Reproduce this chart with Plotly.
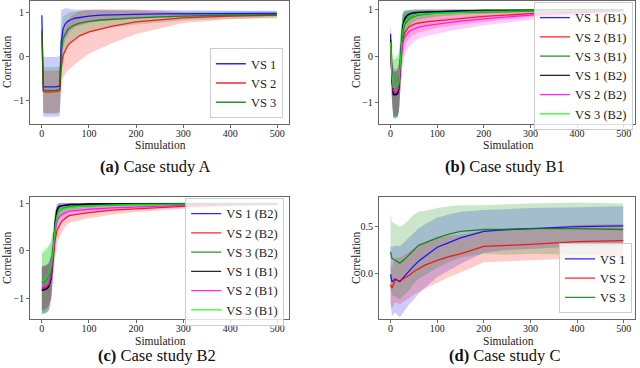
import plotly.graph_objects as go

# ---------------- (a) Case study A ----------------
a_x = [0, 3, 10, 20, 30, 38, 41, 45, 50, 55, 60, 70, 80, 100, 125, 150, 200, 250, 300, 400, 499]
a_vs1 = [0.93, -0.70, -0.70, -0.70, -0.70, -0.68, 0.30, 0.62, 0.74, 0.79, 0.82, 0.86, 0.88, 0.91, 0.93, 0.94, 0.95, 0.96, 0.96, 0.97, 0.97]
a_vs1_sd = [0.15, 0.68, 0.68, 0.68, 0.68, 0.68, 0.75, 0.45, 0.35, 0.30, 0.25, 0.20, 0.18, 0.15, 0.13, 0.12, 0.10, 0.09, 0.08, 0.07, 0.06]
a_vs2 = [0.55, -0.80, -0.82, -0.82, -0.81, -0.79, -0.30, 0.02, 0.15, 0.24, 0.30, 0.39, 0.46, 0.55, 0.62, 0.68, 0.78, 0.83, 0.87, 0.91, 0.93]
a_vs2_sd = [0.20, 0.48, 0.48, 0.48, 0.48, 0.48, 0.50, 0.52, 0.55, 0.57, 0.58, 0.58, 0.56, 0.50, 0.44, 0.38, 0.28, 0.20, 0.12, 0.07, 0.05]
a_vs3 = [0.60, -0.77, -0.78, -0.78, -0.78, -0.76, 0.05, 0.40, 0.52, 0.60, 0.65, 0.71, 0.75, 0.79, 0.82, 0.84, 0.87, 0.89, 0.91, 0.93, 0.94]
a_vs3_sd = [0.20, 0.53, 0.53, 0.53, 0.53, 0.53, 0.55, 0.50, 0.42, 0.38, 0.35, 0.30, 0.28, 0.26, 0.22, 0.19, 0.15, 0.12, 0.10, 0.08, 0.08]

# ---------------- (b) Case study B1 ----------------
b_x = [0, 3, 6, 10, 15, 18, 22, 26, 30, 35, 40, 50, 60, 80, 100, 150, 200, 300, 400, 499]
b_vs1_b1 = [0.48, -0.50, -0.83, -0.84, -0.82, -0.70, 0.00, 0.60, 0.78, 0.86, 0.90, 0.93, 0.94, 0.95, 0.96, 0.97, 0.98, 0.98, 0.99, 0.99]
b_vs1_b1_sd = [0.20, 0.45, 0.50, 0.50, 0.50, 0.50, 0.45, 0.30, 0.18, 0.12, 0.09, 0.07, 0.06, 0.05, 0.04, 0.03, 0.03, 0.02, 0.02, 0.02]
b_vs2_b1 = [0.30, -0.45, -0.78, -0.80, -0.78, -0.68, -0.10, 0.35, 0.50, 0.58, 0.63, 0.68, 0.71, 0.74, 0.76, 0.81, 0.85, 0.91, 0.95, 0.98]
b_vs2_b1_sd = [0.25, 0.45, 0.50, 0.50, 0.50, 0.50, 0.50, 0.40, 0.33, 0.28, 0.25, 0.22, 0.20, 0.18, 0.16, 0.13, 0.11, 0.07, 0.04, 0.02]
b_vs3_b1 = [0.28, -0.40, -0.68, -0.68, -0.66, -0.55, 0.00, 0.50, 0.68, 0.75, 0.80, 0.85, 0.88, 0.90, 0.92, 0.94, 0.95, 0.97, 0.98, 0.99]
b_vs3_b1_sd = [0.35, 0.50, 0.60, 0.62, 0.62, 0.60, 0.50, 0.38, 0.26, 0.20, 0.16, 0.12, 0.10, 0.08, 0.07, 0.05, 0.04, 0.03, 0.02, 0.02]
b_vs1_b2 = [0.35, -0.50, -0.82, -0.83, -0.81, -0.70, 0.00, 0.62, 0.80, 0.87, 0.90, 0.93, 0.94, 0.95, 0.96, 0.97, 0.98, 0.98, 0.99, 0.99]
b_vs1_b2_sd = [0.20, 0.45, 0.50, 0.50, 0.50, 0.50, 0.45, 0.30, 0.18, 0.12, 0.09, 0.07, 0.06, 0.05, 0.04, 0.03, 0.03, 0.02, 0.02, 0.02]
b_vs2_b2 = [0.30, -0.45, -0.75, -0.77, -0.75, -0.65, -0.15, 0.25, 0.40, 0.48, 0.53, 0.58, 0.62, 0.66, 0.69, 0.75, 0.80, 0.88, 0.93, 0.97]
b_vs2_b2_sd = [0.25, 0.45, 0.50, 0.50, 0.50, 0.50, 0.50, 0.45, 0.40, 0.35, 0.32, 0.28, 0.25, 0.22, 0.20, 0.17, 0.14, 0.10, 0.06, 0.03]
b_vs3_b2 = [0.30, -0.40, -0.67, -0.67, -0.65, -0.55, 0.02, 0.55, 0.72, 0.78, 0.82, 0.87, 0.89, 0.91, 0.92, 0.94, 0.96, 0.97, 0.98, 0.99]
b_vs3_b2_sd = [0.40, 0.55, 0.65, 0.67, 0.67, 0.65, 0.55, 0.40, 0.28, 0.20, 0.15, 0.11, 0.09, 0.08, 0.07, 0.05, 0.04, 0.03, 0.02, 0.02]

# ---------------- (c) Case study B2 ----------------
c_x = [0, 5, 10, 15, 20, 24, 28, 32, 36, 40, 45, 50, 55, 60, 80, 100, 150, 200, 300, 400, 499]
c_vs1_b2 = [-0.83, -0.82, -0.80, -0.75, -0.55, -0.05, 0.55, 0.85, 0.92, 0.94, 0.95, 0.96, 0.96, 0.97, 0.97, 0.98, 0.98, 0.98, 0.99, 0.99, 0.99]
c_vs1_b2_sd = [0.50, 0.50, 0.50, 0.50, 0.45, 0.35, 0.25, 0.12, 0.08, 0.06, 0.05, 0.05, 0.04, 0.04, 0.03, 0.03, 0.03, 0.02, 0.02, 0.02, 0.02]
c_vs2_b2 = [-0.80, -0.79, -0.77, -0.72, -0.55, -0.20, 0.20, 0.42, 0.52, 0.58, 0.64, 0.69, 0.72, 0.74, 0.77, 0.80, 0.85, 0.88, 0.93, 0.96, 0.98]
c_vs2_b2_sd = [0.45, 0.45, 0.45, 0.45, 0.45, 0.40, 0.35, 0.30, 0.27, 0.24, 0.21, 0.18, 0.16, 0.15, 0.13, 0.12, 0.09, 0.07, 0.05, 0.03, 0.02]
c_vs3_b2 = [-0.67, -0.65, -0.60, -0.50, -0.35, 0.00, 0.50, 0.75, 0.83, 0.86, 0.88, 0.90, 0.91, 0.92, 0.93, 0.94, 0.96, 0.97, 0.98, 0.99, 0.99]
c_vs3_b2_sd = [0.60, 0.62, 0.62, 0.60, 0.55, 0.45, 0.30, 0.18, 0.12, 0.10, 0.08, 0.07, 0.06, 0.06, 0.05, 0.04, 0.03, 0.03, 0.02, 0.02, 0.02]
c_vs1_b1 = [-0.84, -0.83, -0.81, -0.76, -0.56, -0.05, 0.55, 0.85, 0.92, 0.94, 0.95, 0.96, 0.96, 0.97, 0.97, 0.98, 0.98, 0.98, 0.99, 0.99, 0.99]
c_vs1_b1_sd = [0.50, 0.50, 0.50, 0.50, 0.45, 0.35, 0.25, 0.12, 0.08, 0.06, 0.05, 0.05, 0.04, 0.04, 0.03, 0.03, 0.03, 0.02, 0.02, 0.02, 0.02]
c_vs2_b1 = [-0.78, -0.77, -0.75, -0.70, -0.50, -0.10, 0.40, 0.62, 0.70, 0.74, 0.78, 0.80, 0.82, 0.83, 0.85, 0.87, 0.90, 0.92, 0.95, 0.97, 0.98]
c_vs2_b1_sd = [0.45, 0.45, 0.45, 0.45, 0.45, 0.40, 0.30, 0.22, 0.18, 0.16, 0.14, 0.12, 0.11, 0.10, 0.08, 0.07, 0.05, 0.04, 0.03, 0.02, 0.02]
c_vs3_b1 = [-0.66, -0.63, -0.58, -0.48, -0.33, 0.00, 0.48, 0.73, 0.82, 0.86, 0.88, 0.89, 0.90, 0.91, 0.93, 0.94, 0.96, 0.97, 0.98, 0.99, 0.99]
c_vs3_b1_sd = [0.65, 0.66, 0.65, 0.60, 0.55, 0.45, 0.30, 0.18, 0.12, 0.10, 0.08, 0.07, 0.06, 0.06, 0.05, 0.04, 0.03, 0.03, 0.02, 0.02, 0.02]

# ---------------- (d) Case study C ----------------
d_x = [0, 3, 10, 20, 30, 40, 50, 60, 75, 100, 125, 150, 200, 250, 300, 400, 499]
d_vs1 = [-0.01, -0.09, -0.06, -0.09, -0.03, 0.03, 0.08, 0.13, 0.19, 0.28, 0.33, 0.38, 0.45, 0.47, 0.48, 0.50, 0.51]
d_vs1_sd = [0.30, 0.37, 0.36, 0.38, 0.37, 0.36, 0.36, 0.35, 0.34, 0.32, 0.30, 0.28, 0.23, 0.22, 0.22, 0.21, 0.21]
d_vs2 = [-0.12, -0.16, -0.07, -0.08, -0.05, -0.02, 0.02, 0.05, 0.09, 0.14, 0.18, 0.21, 0.29, 0.30, 0.31, 0.34, 0.35]
d_vs2_sd = [0.22, 0.22, 0.24, 0.25, 0.25, 0.25, 0.25, 0.25, 0.25, 0.24, 0.22, 0.20, 0.17, 0.17, 0.17, 0.18, 0.18]
d_vs3 = [0.23, 0.16, 0.14, 0.11, 0.15, 0.20, 0.26, 0.30, 0.33, 0.38, 0.42, 0.45, 0.47, 0.47, 0.48, 0.48, 0.47]
d_vs3_sd = [0.40, 0.40, 0.39, 0.39, 0.38, 0.38, 0.37, 0.36, 0.34, 0.32, 0.30, 0.28, 0.26, 0.27, 0.27, 0.28, 0.28]

BLUE, RED, GREEN = (0, 0, 255), (255, 0, 0), (0, 128, 0)
BLACK, MAGENTA, LIME = (0, 0, 0), (255, 0, 255), (0, 255, 0)
FONT = "Liberation Serif"

fig = go.Figure()


def add_series(x, mean, sd, rgb, name, ax, legend):
    xr = "x" if ax == 1 else f"x{ax}"
    yr = "y" if ax == 1 else f"y{ax}"
    upper = [m + s for m, s in zip(mean, sd)]
    lower = [m - s for m, s in zip(mean, sd)]
    fig.add_trace(go.Scatter(
        x=x + x[::-1], y=upper + lower[::-1], fill="toself",
        fillcolor="rgba(%d,%d,%d,0.2)" % rgb, line=dict(width=0),
        mode="lines", hoverinfo="skip", showlegend=False, xaxis=xr, yaxis=yr))
    return dict(x=x, y=mean, mode="lines", name=name, xaxis=xr, yaxis=yr,
                legend=legend, opacity=0.85,
                line=dict(color="rgb(%d,%d,%d)" % rgb, width=1.3))


panels = [
    (1, "legend", [(a_x, a_vs1, a_vs1_sd, BLUE, "VS 1"),
                   (a_x, a_vs2, a_vs2_sd, RED, "VS 2"),
                   (a_x, a_vs3, a_vs3_sd, GREEN, "VS 3")]),
    (2, "legend2", [(b_x, b_vs1_b1, b_vs1_b1_sd, BLUE, "VS 1 (B1)"),
                    (b_x, b_vs2_b1, b_vs2_b1_sd, RED, "VS 2 (B1)"),
                    (b_x, b_vs3_b1, b_vs3_b1_sd, GREEN, "VS 3 (B1)"),
                    (b_x, b_vs1_b2, b_vs1_b2_sd, BLACK, "VS 1 (B2)"),
                    (b_x, b_vs2_b2, b_vs2_b2_sd, MAGENTA, "VS 2 (B2)"),
                    (b_x, b_vs3_b2, b_vs3_b2_sd, LIME, "VS 3 (B2)")]),
    (3, "legend3", [(c_x, c_vs1_b2, c_vs1_b2_sd, BLUE, "VS 1 (B2)"),
                    (c_x, c_vs2_b2, c_vs2_b2_sd, RED, "VS 2 (B2)"),
                    (c_x, c_vs3_b2, c_vs3_b2_sd, GREEN, "VS 3 (B2)"),
                    (c_x, c_vs1_b1, c_vs1_b1_sd, BLACK, "VS 1 (B1)"),
                    (c_x, c_vs2_b1, c_vs2_b1_sd, MAGENTA, "VS 2 (B1)"),
                    (c_x, c_vs3_b1, c_vs3_b1_sd, LIME, "VS 3 (B1)")]),
    (4, "legend4", [(d_x, d_vs1, d_vs1_sd, BLUE, "VS 1"),
                    (d_x, d_vs2, d_vs2_sd, RED, "VS 2"),
                    (d_x, d_vs3, d_vs3_sd, GREEN, "VS 3")]),
]

lines = []
for ax, leg, series in panels:
    for x, m, s, rgb, name in series:
        lines.append(add_series(x, m, s, rgb, name, ax, leg))
for ln in lines:
    fig.add_trace(go.Scatter(**ln))

xdom_l, xdom_r = [0.047, 0.451], [0.592, 0.992]
ydom_t, ydom_b = [0.663, 0.997], [0.133, 0.465]
yranges = [[-1.545, 1.25], [-1.46, 1.18], [-1.44, 1.13], [-0.49, 0.82]]
doms = [(xdom_l, ydom_t), (xdom_r, ydom_t), (xdom_l, ydom_b), (xdom_r, ydom_b)]

axis_common = dict(showline=True, linecolor="#666666", linewidth=1, mirror=True,
                   ticks="outside", ticklen=3, tickcolor="#666666",
                   showgrid=False, zeroline=False, automargin=False,
                   tickfont=dict(size=10, family=FONT, color="#222"))

layout = {}
for i, ((xd, yd), yr) in enumerate(zip(doms, yranges), start=1):
    sx = "" if i == 1 else str(i)
    layout["xaxis" + sx] = dict(axis_common, domain=xd, range=[-25, 524],
                                anchor="y" + sx, tickvals=[0, 100, 200, 300, 400, 500],
                                ticklabelstandoff=-3)
    yt = dict(tickvals=[0, 0.5], tickformat=".1f") if i == 4 else dict(tickvals=[-1, 0, 1])
    layout["yaxis" + sx] = dict(axis_common, domain=yd, range=yr, anchor="x" + sx, **yt)

leg_common = dict(bgcolor="rgba(255,255,255,0.8)", bordercolor="#cccccc", borderwidth=1,
                  font=dict(size=12.5, family=FONT, color="#222"), itemwidth=30,
                  xanchor="right")
layout["legend"] = dict(leg_common, x=0.442, y=0.679, yanchor="bottom")
layout["legend2"] = dict(leg_common, x=0.989, y=0.9946, yanchor="top")
layout["legend3"] = dict(leg_common, x=0.444, y=0.462, yanchor="top")
layout["legend4"] = dict(leg_common, x=0.9875, y=0.149, yanchor="bottom")

annotations = []
# axis titles (centre positions in pixels)
for cx, cy in [(160, 145.5), (508, 145.5), (160, 340.5), (508, 340.5)]:
    annotations.append(dict(text="Simulation", x=cx / 640, y=1 - cy / 368,
                            xref="paper", yref="paper", showarrow=False,
                            xanchor="center", yanchor="middle",
                            font=dict(size=11.5, family=FONT, color="#222")))
for cx, cy in [(7, 62), (356, 62), (7, 258), (356, 258)]:
    annotations.append(dict(text="Correlation", x=cx / 640, y=1 - cy / 368,
                            xref="paper", yref="paper", showarrow=False, textangle=-90,
                            xanchor="center", yanchor="middle",
                            font=dict(size=11.5, family=FONT, color="#222")))

captions = [("(a)", "Case study A", 155, 166), ("(b)", "Case study B1", 505, 166),
            ("(c)", "Case study B2", 157, 355), ("(d)", "Case study C", 504, 355)]
for tag, txt, cx, cy in captions:
    annotations.append(dict(text=f"<b>{tag}</b> {txt}", x=cx / 640, y=1 - cy / 368,
                            xref="paper", yref="paper", showarrow=False,
                            xanchor="center", yanchor="middle",
                            font=dict(size=16.5, family=FONT, color="#111")))

fig.update_layout(width=640, height=368, autosize=False,
                  margin=dict(l=0, r=0, t=0, b=0),
                  paper_bgcolor="white", plot_bgcolor="white",
                  font=dict(family=FONT), annotations=annotations, **layout)

# page body has a default 8px margin; drop it so the figure sits at the corner
fig.write_html("out.html", config={"displayModeBar": False},
               post_script="document.body.style.margin='0';")
